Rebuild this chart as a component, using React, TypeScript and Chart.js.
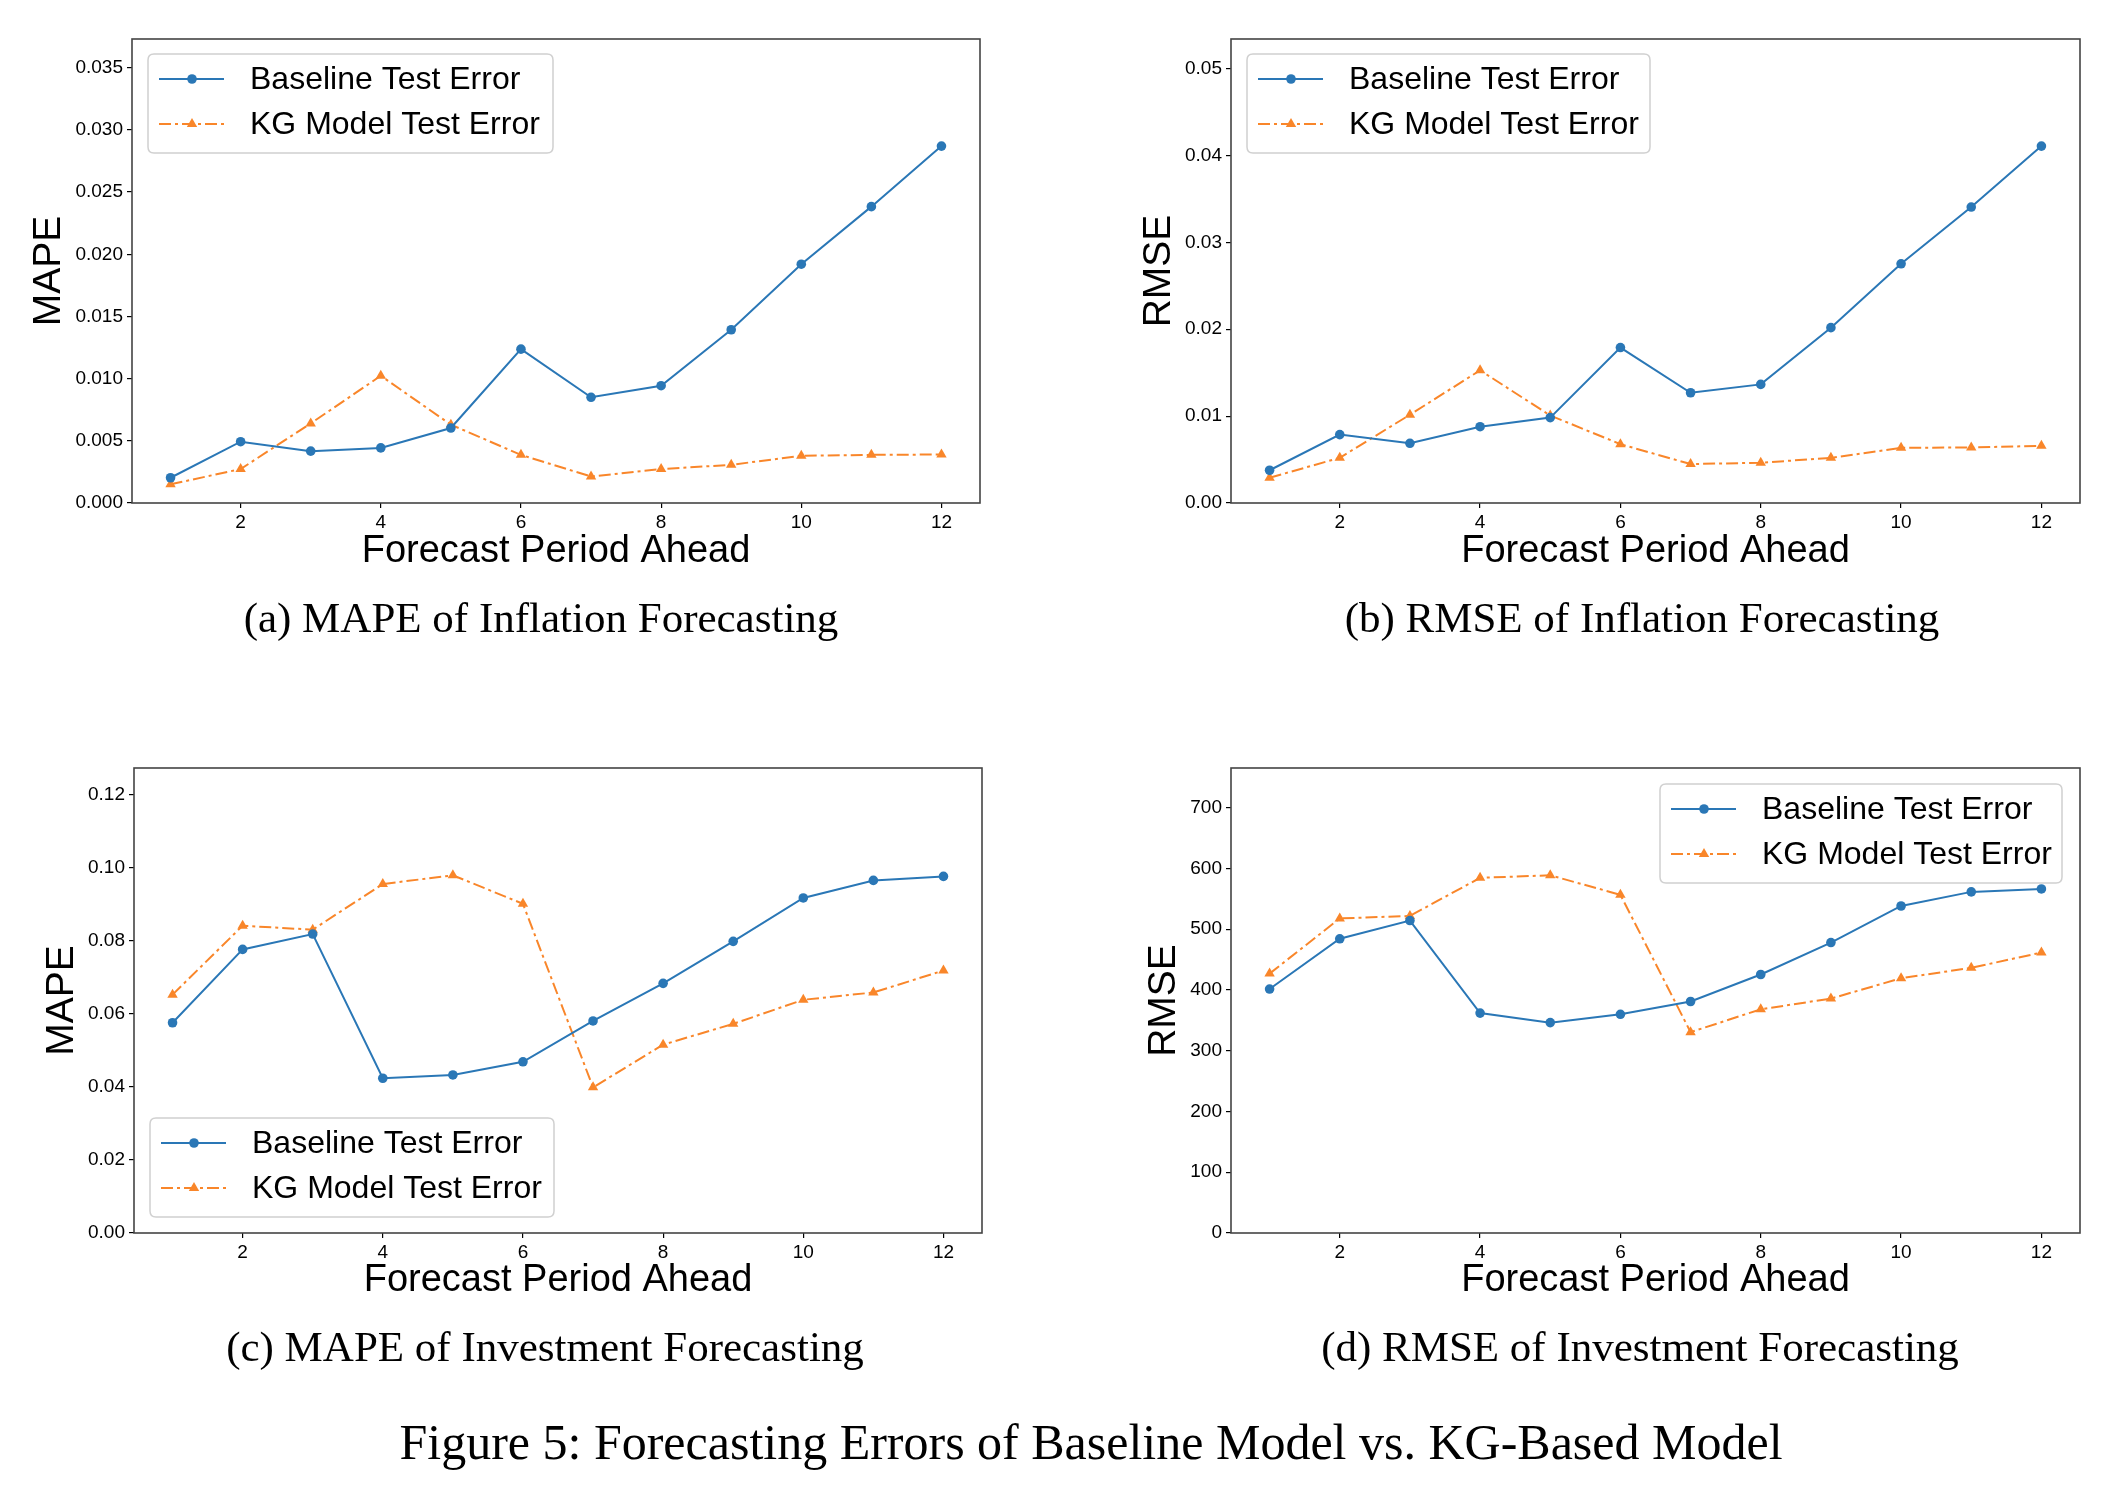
import React, { useEffect, useRef } from "react";
import { Chart, registerables } from "chart.js";

Chart.register(...registerables);

// ---------------- data ----------------
const periods = [1, 2, 3, 4, 5, 6, 7, 8, 9, 10, 11, 12];
const xTickValues = [2, 4, 6, 8, 10, 12];

const inflationMapeBaseline = [0.00203, 0.00493, 0.00417, 0.00443, 0.00603, 0.01237, 0.0085, 0.00943, 0.01393, 0.0192, 0.02383, 0.0287];
const inflationMapeKG = [0.0015, 0.00273, 0.0064, 0.01023, 0.0063, 0.00387, 0.00213, 0.00273, 0.00307, 0.0038, 0.00387, 0.0039];

const inflationRmseBaseline = [0.00377, 0.00787, 0.00687, 0.00878, 0.00983, 0.01789, 0.01269, 0.01365, 0.02018, 0.02753, 0.03406, 0.04108];
const inflationRmseKG = [0.00291, 0.0052, 0.01016, 0.01527, 0.01007, 0.00677, 0.00448, 0.00463, 0.0052, 0.00635, 0.00639, 0.00658];

const investmentMapeBaseline = [0.0576, 0.0777, 0.0819, 0.0424, 0.0433, 0.0469, 0.0581, 0.0684, 0.0799, 0.0918, 0.0966, 0.0977];
const investmentMapeKG = [0.0653, 0.0842, 0.0831, 0.0956, 0.098, 0.0902, 0.0399, 0.0516, 0.0573, 0.0639, 0.0659, 0.0719];

const investmentRmseBaseline = [401.6, 484.3, 514.3, 362.0, 346.3, 360.0, 381.1, 425.5, 478.1, 538.3, 561.5, 566.3];
const investmentRmseKG = [427.0, 517.8, 521.9, 584.7, 588.8, 556.7, 330.6, 368.2, 385.9, 419.4, 436.5, 461.7];

const inflationMapeTicks = [0, 0.005, 0.01, 0.015, 0.02, 0.025, 0.03, 0.035];
const inflationRmseTicks = [0, 0.01, 0.02, 0.03, 0.04, 0.05];
const investmentMapeTicks = [0, 0.02, 0.04, 0.06, 0.08, 0.1, 0.12];
const investmentRmseTicks = [0, 100, 200, 300, 400, 500, 600, 700];

const seriesNames = ["Baseline Test Error", "KG Model Test Error"];
const xAxisTitle = "Forecast Period Ahead";
const subCaptions = [
  "(a) MAPE of Inflation Forecasting",
  "(b) RMSE of Inflation Forecasting",
  "(c) MAPE of Investment Forecasting",
  "(d) RMSE of Investment Forecasting",
];
const figureCaption = "Figure 5: Forecasting Errors of Baseline Model vs. KG-Based Model";

// ---------------- styling / layout ----------------
const SANS = '"Liberation Sans", Arial, Helvetica, sans-serif';
const SERIF = '"Liberation Serif", "Times New Roman", serif';
const BLUE = "#2a77b6";
const ORANGE = "#f9862a";
const DASHDOT = [12, 4, 3, 4];
const CW = 1058;
const CH = 600;
const CIRCLE_R = 4.8;
const TRI_R = 6;

type Box = { x: number; y: number; w: number; h: number };
type Panel = {
  left: number;
  top: number;
  plot: { l: number; t: number; r: number; b: number };
  yTitleX: number;
  yTitle: string;
  base: number[];
  kg: number[];
  ticks: number[];
  decimals: number;
  legend: Box;
  caption: string;
  capX: number;
  capY: number;
};

const PANELS: Panel[] = [
  {
    left: 0, top: 0, plot: { l: 132, t: 39, r: 980, b: 503 }, yTitleX: 49, yTitle: "MAPE",
    base: inflationMapeBaseline, kg: inflationMapeKG, ticks: inflationMapeTicks, decimals: 3,
    legend: { x: 148, y: 54, w: 405, h: 99 }, caption: subCaptions[0], capX: 541, capY: 618,
  },
  {
    left: 1058, top: 0, plot: { l: 173, t: 39, r: 1022, b: 503 }, yTitleX: 101, yTitle: "RMSE",
    base: inflationRmseBaseline, kg: inflationRmseKG, ticks: inflationRmseTicks, decimals: 2,
    legend: { x: 189, y: 54, w: 403, h: 99 }, caption: subCaptions[1], capX: 1642, capY: 618,
  },
  {
    left: 0, top: 729, plot: { l: 134, t: 39, r: 982, b: 504 }, yTitleX: 62, yTitle: "MAPE",
    base: investmentMapeBaseline, kg: investmentMapeKG, ticks: investmentMapeTicks, decimals: 2,
    legend: { x: 150, y: 389, w: 404, h: 99 }, caption: subCaptions[2], capX: 545, capY: 1347,
  },
  {
    left: 1058, top: 729, plot: { l: 173, t: 39, r: 1022, b: 504 }, yTitleX: 106, yTitle: "RMSE",
    base: investmentRmseBaseline, kg: investmentRmseKG, ticks: investmentRmseTicks, decimals: 0,
    legend: { x: 602, y: 55, w: 402, h: 99 }, caption: subCaptions[3], capX: 1640, capY: 1347,
  },
];

function drawMarker(ctx: CanvasRenderingContext2D, kind: string, x: number, y: number, r: number) {
  ctx.beginPath();
  if (kind === "circle") {
    ctx.arc(x, y, r, 0, Math.PI * 2);
  } else {
    ctx.moveTo(x, y - r);
    ctx.lineTo(x + 0.866 * r, y + 0.5 * r);
    ctx.lineTo(x - 0.866 * r, y + 0.5 * r);
    ctx.closePath();
  }
  ctx.fill();
}

function makePlugins(p: Panel) {
  const frame = {
    id: "frame",
    afterDatasetsDraw(chart: any) {
      const { ctx, chartArea: a } = chart;
      ctx.save();
      ctx.strokeStyle = "#444";
      ctx.lineWidth = 1.6;
      ctx.strokeRect(a.left, a.top, a.right - a.left, a.bottom - a.top);
      ctx.restore();
    },
  };
  const legend = {
    id: "mplLegend",
    afterDraw(chart: any) {
      const ctx: CanvasRenderingContext2D = chart.ctx;
      const b = p.legend;
      ctx.save();
      const rad = 6;
      ctx.beginPath();
      ctx.moveTo(b.x + rad, b.y);
      ctx.lineTo(b.x + b.w - rad, b.y);
      ctx.quadraticCurveTo(b.x + b.w, b.y, b.x + b.w, b.y + rad);
      ctx.lineTo(b.x + b.w, b.y + b.h - rad);
      ctx.quadraticCurveTo(b.x + b.w, b.y + b.h, b.x + b.w - rad, b.y + b.h);
      ctx.lineTo(b.x + rad, b.y + b.h);
      ctx.quadraticCurveTo(b.x, b.y + b.h, b.x, b.y + b.h - rad);
      ctx.lineTo(b.x, b.y + rad);
      ctx.quadraticCurveTo(b.x, b.y, b.x + rad, b.y);
      ctx.closePath();
      ctx.fillStyle = "rgba(255,255,255,0.85)";
      ctx.fill();
      ctx.strokeStyle = "#d0d0d0";
      ctx.lineWidth = 1.5;
      ctx.stroke();
      const entries = [
        { name: seriesNames[0], color: BLUE, dash: [] as number[], marker: "circle", r: CIRCLE_R },
        { name: seriesNames[1], color: ORANGE, dash: DASHDOT, marker: "triangle", r: TRI_R },
      ];
      entries.forEach((e, i) => {
        const cy = b.y + 25 + i * 45;
        ctx.beginPath();
        ctx.setLineDash(e.dash);
        ctx.strokeStyle = e.color;
        ctx.lineWidth = 2;
        ctx.moveTo(b.x + 11, cy);
        ctx.lineTo(b.x + 76, cy);
        ctx.stroke();
        ctx.setLineDash([]);
        ctx.fillStyle = e.color;
        drawMarker(ctx, e.marker, b.x + 44, cy, e.r);
        ctx.fillStyle = "#000";
        ctx.font = `32px ${SANS}`;
        ctx.textBaseline = "middle";
        ctx.textAlign = "left";
        ctx.fillText(e.name, b.x + 102, cy + 1);
      });
      ctx.restore();
    },
  };
  return [frame, legend];
}

function PanelChart({ p }: { p: Panel }) {
  const ref = useRef<HTMLCanvasElement | null>(null);
  useEffect(() => {
    if (!ref.current) return;
    const yMax = Math.max(...p.base, ...p.kg) * 1.3;
    const pl = p.yTitleX - 19;
    const chart = new Chart(ref.current, {
      type: "line",
      data: {
        datasets: [
          {
            label: seriesNames[0],
            data: periods.map((x, i) => ({ x, y: p.base[i] })),
            borderColor: BLUE,
            backgroundColor: BLUE,
            borderWidth: 2,
            pointStyle: "circle",
            pointRadius: CIRCLE_R,
            pointBorderWidth: 0,
            tension: 0,
            fill: false,
          },
          {
            label: seriesNames[1],
            data: periods.map((x, i) => ({ x, y: p.kg[i] })),
            borderColor: ORANGE,
            backgroundColor: ORANGE,
            borderWidth: 2,
            borderDash: DASHDOT,
            pointStyle: "triangle",
            pointRadius: TRI_R,
            pointBorderWidth: 0,
            tension: 0,
            fill: false,
          },
        ],
      },
      options: {
        animation: false,
        responsive: false,
        maintainAspectRatio: false,
        layout: { padding: { left: pl, top: p.plot.t, right: CW - p.plot.r, bottom: 0 } },
        plugins: { legend: { display: false }, tooltip: { enabled: false } },
        scales: {
          x: {
            type: "linear",
            min: 0.45,
            max: 12.55,
            afterBuildTicks: (s: any) => {
              s.ticks = xTickValues.map((v) => ({ value: v }));
            },
            afterFit: (s: any) => {
              s.height = CH - p.plot.b;
            },
            grid: { drawOnChartArea: false, drawTicks: true, tickLength: 5, color: "#000", lineWidth: 1.2 },
            border: { display: false },
            ticks: {
              font: { family: SANS, size: 19 },
              color: "#000",
              padding: 3,
              maxRotation: 0,
              autoSkip: false,
              callback: (v: any) => String(v),
            },
            title: {
              display: true,
              text: xAxisTitle,
              color: "#000",
              font: { family: SANS, size: 38, lineHeight: 1 },
              padding: { top: 0, bottom: 29 },
            },
          },
          y: {
            type: "linear",
            min: 0,
            max: yMax,
            afterBuildTicks: (s: any) => {
              s.ticks = p.ticks.map((v) => ({ value: v }));
            },
            afterFit: (s: any) => {
              s.width = p.plot.l - pl;
            },
            grid: { drawOnChartArea: false, drawTicks: true, tickLength: 5, color: "#000", lineWidth: 1.2 },
            border: { display: false },
            ticks: {
              font: { family: SANS, size: 19 },
              color: "#000",
              padding: 4,
              autoSkip: false,
              callback: (v: any) => Number(v).toFixed(p.decimals),
            },
            title: {
              display: true,
              text: p.yTitle,
              color: "#000",
              font: { family: SANS, size: 39, lineHeight: 1 },
              padding: { top: 0, bottom: 0 },
            },
          },
        },
      },
      plugins: makePlugins(p),
    } as any);
    return () => chart.destroy();
  }, [p]);
  return (
    <canvas
      ref={ref}
      width={CW}
      height={CH}
      style={{ position: "absolute", left: p.left, top: p.top, width: CW, height: CH }}
    />
  );
}

export default function App() {
  return (
    <div style={{ position: "absolute", left: 0, top: 0, width: 2116, height: 1490, background: "#fff", overflow: "hidden" }}>
      {PANELS.map((p, i) => (
        <PanelChart key={i} p={p} />
      ))}
      {PANELS.map((p, i) => (
        <div
          key={"c" + i}
          style={{
            position: "absolute",
            left: p.capX - 500,
            top: p.capY - 22,
            width: 1000,
            textAlign: "center",
            fontFamily: SERIF,
            fontSize: 43,
            lineHeight: "43px",
            color: "#000",
            whiteSpace: "nowrap",
          }}
        >
          {p.caption}
        </div>
      ))}
      <div
        style={{
          position: "absolute",
          left: 1091 - 1000,
          top: 1443 - 26,
          width: 2000,
          textAlign: "center",
          fontFamily: SERIF,
          fontSize: 50,
          lineHeight: "50px",
          color: "#000",
          whiteSpace: "nowrap",
        }}
      >
        {figureCaption}
      </div>
    </div>
  );
}
